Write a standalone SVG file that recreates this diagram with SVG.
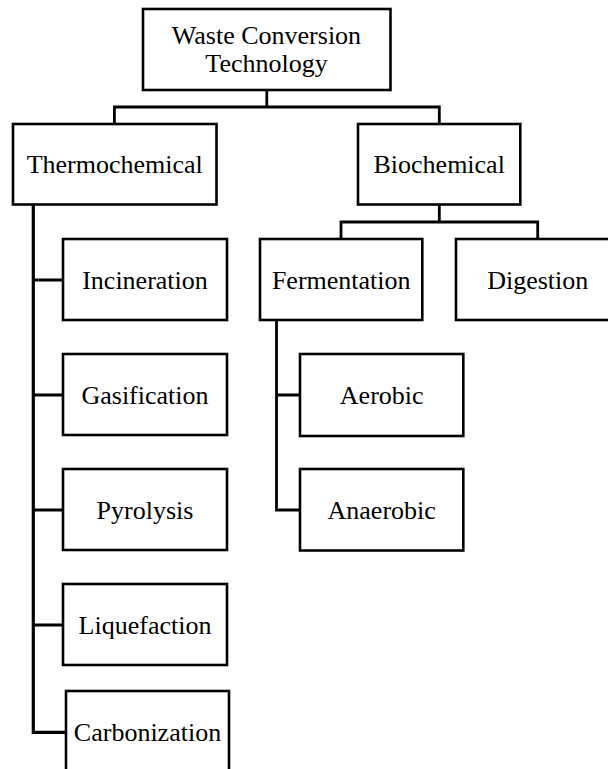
<svg xmlns="http://www.w3.org/2000/svg" width="608" height="769" viewBox="0 0 608 769">
<style>
  .box { fill: #ffffff; stroke: #000000; stroke-width: 2.6; }
  .lbl { font-family: "Liberation Serif", "Times New Roman", serif; font-size: 26px; fill: #000000; text-anchor: middle; }
  .con { fill: none; stroke: #000000; stroke-width: 2.8; stroke-linejoin: miter; stroke-linecap: square; }
</style>
<rect x="0" y="0" width="608" height="769" fill="#ffffff"/>
<g id="connectors">
  <path class="con" d="M266.8,90 V107 M114.4,124 V107 H439.3 V124"/>
  <path class="con" d="M439.3,204 V222 M341,239 V222 H537.7 V239"/>
  <path class="con" d="M33.3,204 V732.3 H66 M33.3,280 H63 M33.3,395 H63 M33.3,510 H63 M33.3,625 H63" style="stroke-width:3.2"/>
  <path class="con" d="M276.5,320 V510 H300 M276.5,395 H300"/>
</g>
<g id="root">
  <rect class="box" x="143" y="9" width="247.5" height="81"/>
  <text class="lbl" x="266.5" y="44">Waste Conversion</text>
  <text class="lbl" x="266.5" y="72">Technology</text>
</g>
<g id="thermochemical">
  <rect class="box" x="13" y="124" width="203.5" height="80.5"/>
  <text class="lbl" x="114.7" y="173">Thermochemical</text>
</g>
<g id="biochemical">
  <rect class="box" x="358" y="124" width="162.3" height="80.5"/>
  <text class="lbl" x="439.2" y="173">Biochemical</text>
</g>
<g id="incineration">
  <rect class="box" x="63" y="239" width="164" height="81"/>
  <text class="lbl" x="145" y="288.6">Incineration</text>
</g>
<g id="gasification">
  <rect class="box" x="63" y="354" width="164" height="81"/>
  <text class="lbl" x="145" y="403.6">Gasification</text>
</g>
<g id="pyrolysis">
  <rect class="box" x="63" y="469" width="164" height="81"/>
  <text class="lbl" x="145" y="518.6">Pyrolysis</text>
</g>
<g id="liquefaction">
  <rect class="box" x="63" y="584" width="164" height="81"/>
  <text class="lbl" x="145" y="633.6">Liquefaction</text>
</g>
<g id="carbonization">
  <rect class="box" x="66" y="691" width="163" height="82"/>
  <text class="lbl" x="147.5" y="740.8">Carbonization</text>
</g>
<g id="fermentation">
  <rect class="box" x="260" y="239" width="162.3" height="81"/>
  <text class="lbl" x="341.2" y="288.6">Fermentation</text>
</g>
<g id="digestion">
  <rect class="box" x="456" y="239" width="163.4" height="81"/>
  <text class="lbl" x="537.7" y="288.6">Digestion</text>
</g>
<g id="aerobic">
  <rect class="box" x="300" y="354" width="163.3" height="82"/>
  <text class="lbl" x="381.7" y="403.6">Aerobic</text>
</g>
<g id="anaerobic">
  <rect class="box" x="300" y="469" width="163.3" height="81.5"/>
  <text class="lbl" x="381.7" y="518.6">Anaerobic</text>
</g>
</svg>
